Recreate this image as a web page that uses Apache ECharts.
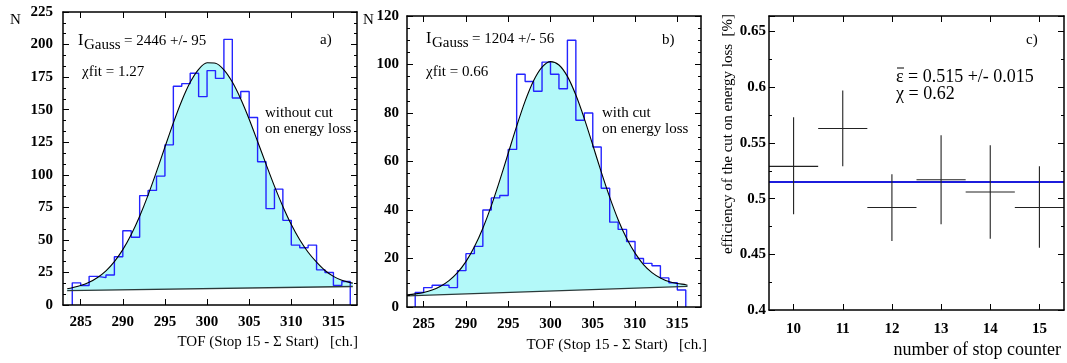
<!DOCTYPE html>
<html><head><meta charset="utf-8">
<script src="https://cdn.jsdelivr.net/npm/echarts@6/dist/echarts.min.js"></script>
<style>html,body{margin:0;padding:0;background:#fff}#c{width:1067px;height:363px}</style>
</head><body><div id="c"></div>
<script>
// ---------- data ----------
const tofTicks = [285, 290, 295, 300, 305, 310, 315];

// panel a: without cut
const histAStart = 284;
const histA = [17,15,22,21,23,37,57,52,84,88,99,123,168,170,178,160,180,174,204,159,164,144,110,74,89,65,46,44,46,27,25,15,18];
const fitAx = [283.4,284,285,286,287,288,289,290,291,292,293,294,295,296,297,298,299,300,301,302,303,304,305,306,307,308,309,310,311,312,313,314,315,316,317,317.3];
const fitAy = [12.5,13.3,14.9,17.4,21.1,26.2,33.3,42.5,54.1,68.2,84.4,102.4,121.3,139.9,156.9,171.0,181.0,186.0,185.7,180.6,171.2,158.2,142.7,125.6,108.2,91.3,75.7,61.8,50.1,40.5,32.9,26.5,22.0,19.0,17.2,16.8];
const bgAx = [283.4, 317.3];
const bgAy = [11.0, 14.2];

// panel b: with cut
const histBStart = 284;
const histB = [6,8,9,9,8,15,22,25,40,45,46,65,96,93,89,101,96,90,110,77,80,66,49,35,32,27,20,18,17,12,10,7];
const fitBx = [283.05,284,285,286,287,288,289,290,291,292,293,294,295,296,297,298,299,300,301,302,303,304,305,306,307,308,309,310,311,312,313,314,315,316,316.2];
const fitBy = [5.0,5.4,6.0,7.0,8.6,10.9,14.2,18.7,24.8,32.5,41.7,52.2,63.4,74.6,84.9,93.3,98.9,101.2,99.8,95.1,87.4,77.7,66.8,55.7,45.3,36.0,28.3,22.2,17.5,14.2,12.0,10.5,9.7,9.2,9.0];
const bgBx = [283.05, 316.2];
const bgBy = [4.6, 8.5];

// panel c: efficiency per stop counter
const counters = [10, 11, 12, 13, 14, 15];
const eff = [0.529, 0.563, 0.492, 0.517, 0.506, 0.492];
const errUp = [0.044, 0.034, 0.030, 0.040, 0.042, 0.037];
const errDown = [0.043, 0.034, 0.030, 0.040, 0.042, 0.036];
const meanEff = 0.515;

// ---------- styling ----------
const SERIF = '"Liberation Serif", "DejaVu Serif", serif';
const CYAN = '#b3f9f9';
const BLUE = '#2424ff';

function histData(start, vals) {
  const d = [[start, 0]];
  vals.forEach((v, i) => d.push([start + i, v]));
  d.push([start + vals.length, vals[vals.length - 1]]);
  d.push([start + vals.length, 0]);
  return d;
}
function pairs(xs, ys) { return xs.map((x, i) => [x, ys[i]]); }

const tickStyle = { show: true, inside: true, length: 6, lineStyle: { color: '#000', width: 1 } };
const lineStyleAxis = { show: true, onZero: false, lineStyle: { color: '#000', width: 1.5 } };

function xAx(grid, pos, min, max, customVals, labelMargin) {
  return {
    type: 'value', gridIndex: grid, position: pos, min: min, max: max, z: 10,
    axisLine: lineStyleAxis,
    axisTick: Object.assign({}, tickStyle, { customValues: customVals }),
    axisLabel: { show: pos === 'bottom', customValues: customVals, margin: labelMargin,
      fontFamily: SERIF, fontWeight: 'bold', fontSize: 15, color: '#000' },
    splitLine: { show: false }
  };
}
function yAx(grid, pos, min, max, interval, minorSplit, labelMargin, fs, showMax) {
  return {
    type: 'value', gridIndex: grid, position: pos, min: min, max: max, interval: interval, z: 10,
    axisLine: lineStyleAxis,
    axisTick: tickStyle,
    minorTick: { show: true, splitNumber: minorSplit, length: 3, lineStyle: { color: '#000', width: 1 } },
    axisLabel: { show: pos === 'left', margin: labelMargin, showMaxLabel: showMax, showMinLabel: true,
      hideOverlap: false,
      fontFamily: SERIF, fontWeight: 'bold', fontSize: fs, color: '#000' },
    splitLine: { show: false }, minorSplitLine: { show: false }
  };
}

function panelSeries(xi, yi, hist, hStart, fx, fy, bx, by) {
  return [
    { type: 'line', xAxisIndex: xi, yAxisIndex: yi, data: pairs(fx, fy), smooth: 0.3, symbol: 'none',
      lineStyle: { width: 0 }, areaStyle: { color: CYAN, opacity: 1 }, z: 1, silent: true },
    { type: 'line', xAxisIndex: xi, yAxisIndex: yi, data: pairs(bx, by), symbol: 'none',
      lineStyle: { width: 0 }, areaStyle: { color: '#ffffff', opacity: 1 }, z: 2, silent: true },
    { type: 'line', xAxisIndex: xi, yAxisIndex: yi, data: histData(hStart, hist), step: 'end', symbol: 'none',
      lineStyle: { color: BLUE, width: 1.4 }, z: 3 },
    { type: 'line', xAxisIndex: xi, yAxisIndex: yi, data: pairs(fx, fy), smooth: 0.3, symbol: 'none',
      lineStyle: { color: '#000', width: 1.1 }, z: 4 },
    { type: 'line', xAxisIndex: xi, yAxisIndex: yi, data: pairs(bx, by), symbol: 'none',
      lineStyle: { color: '#2b3a3a', width: 1.3 }, z: 4 }
  ];
}

function txt(x, y, text, size, opts) {
  opts = opts || {};
  return {
    type: 'text', x: x, y: y, rotation: opts.rot || 0, z: 20,
    style: { text: text, font: (opts.weight || 'normal') + ' ' + size + 'px ' + SERIF, fill: '#000',
      align: opts.align || 'left', verticalAlign: 'middle', textAlign: opts.align || 'left', textVerticalAlign: 'middle' }
  };
}

const errData = counters.map((c, i) => [c, eff[i], eff[i] - errDown[i], eff[i] + errUp[i]]);

const option = {
  animation: false,
  backgroundColor: '#fff',
  grid: [
    { left: 63, top: 12, width: 294, height: 293 },
    { left: 407, top: 16, width: 294, height: 291 },
    { left: 769, top: 16, width: 295, height: 294 }
  ],
  xAxis: [
    xAx(0, 'bottom', 282.9, 317.8, tofTicks, 10),
    xAx(0, 'top', 282.9, 317.8, tofTicks, 10),
    xAx(1, 'bottom', 283.03, 317.8, tofTicks, 10),
    xAx(1, 'top', 283.03, 317.8, tofTicks, 10),
    xAx(2, 'bottom', 9.5, 15.5, counters, 12),
    xAx(2, 'top', 9.5, 15.5, counters, 12)
  ],
  yAxis: [
    yAx(0, 'left', 0, 225, 25, 3, 10, 15, true),
    yAx(0, 'right', 0, 225, 25, 3, 10, 15, true),
    yAx(1, 'left', 0, 120, 20, 4, 8, 15, true),
    yAx(1, 'right', 0, 120, 20, 4, 8, 15, true),
    yAx(2, 'left', 0.4, 0.664, 0.05, 2, 3, 15, false),
    yAx(2, 'right', 0.4, 0.664, 0.05, 2, 3, 15, false)
  ],
  series: [].concat(
    panelSeries(0, 0, histA, histAStart, fitAx, fitAy, bgAx, bgAy),
    panelSeries(2, 2, histB, histBStart, fitBx, fitBy, bgBx, bgBy),
    [
      { type: 'line', xAxisIndex: 4, yAxisIndex: 4, data: [[9.5, meanEff], [15.5, meanEff]], symbol: 'none',
        lineStyle: { color: '#1c1cdc', width: 2 }, z: 3 },
      { type: 'custom', xAxisIndex: 4, yAxisIndex: 4, data: errData, z: 4,
        renderItem: function (params, api) {
          const x = api.value(0), y = api.value(1), lo = api.value(2), hi = api.value(3);
          const pL = api.coord([x - 0.5, y]), pR = api.coord([x + 0.5, y]);
          const pT = api.coord([x, hi]), pB = api.coord([x, lo]);
          const st = { stroke: '#222', lineWidth: 1.1 };
          return { type: 'group', children: [
            { type: 'line', shape: { x1: pL[0], y1: pL[1], x2: pR[0], y2: pR[1] }, style: st },
            { type: 'line', shape: { x1: pT[0], y1: pT[1], x2: pB[0], y2: pB[1] }, style: st }
          ]};
        } }
    ]
  ),
  graphic: [
    // panel a
    txt(10, 20, 'N', 15),
    txt(78, 41, 'I', 16),
    txt(84, 45, 'Gauss', 15),
    txt(124, 41, '= 2446 +/- 95', 15),
    txt(82, 72, 'χfit = 1.27', 15),
    txt(320, 40, 'a)', 15),
    txt(265, 113, 'without cut', 15),
    txt(265, 129, 'on energy loss', 15),
    txt(358, 342, 'TOF (Stop 15 - Σ Start)   [ch.]', 15, { align: 'right' }),
    // panel b
    txt(363, 20, 'N', 15),
    txt(426, 39, 'I', 16),
    txt(432, 43, 'Gauss', 15),
    txt(472, 39, '= 1204 +/- 56', 15),
    txt(426, 72, 'χfit = 0.66', 15),
    txt(662, 40, 'b)', 15),
    txt(602, 113, 'with cut', 15),
    txt(602, 129, 'on energy loss', 15),
    txt(707, 345, 'TOF (Stop 15 - Σ Start)   [ch.]', 15, { align: 'right' }),
    // panel c
    txt(1026, 40, 'c)', 15),
    txt(896, 77, 'ε = 0.515 +/- 0.015', 18),
    { type: 'line', z: 20, shape: { x1: 897, y1: 68, x2: 904, y2: 68 }, style: { stroke: '#000', lineWidth: 1 } },
    txt(896, 94, 'χ = 0.62', 18),
    txt(1061, 350, 'number of stop counter', 18, { align: 'right' }),
    txt(728, 134, 'efficiency of the cut on energy loss  [%]', 15, { align: 'center', rot: Math.PI / 2 })
  ]
};

const chart = echarts.init(document.getElementById('c'), null, { renderer: 'canvas' });
chart.setOption(option);
</script>
</body></html>
